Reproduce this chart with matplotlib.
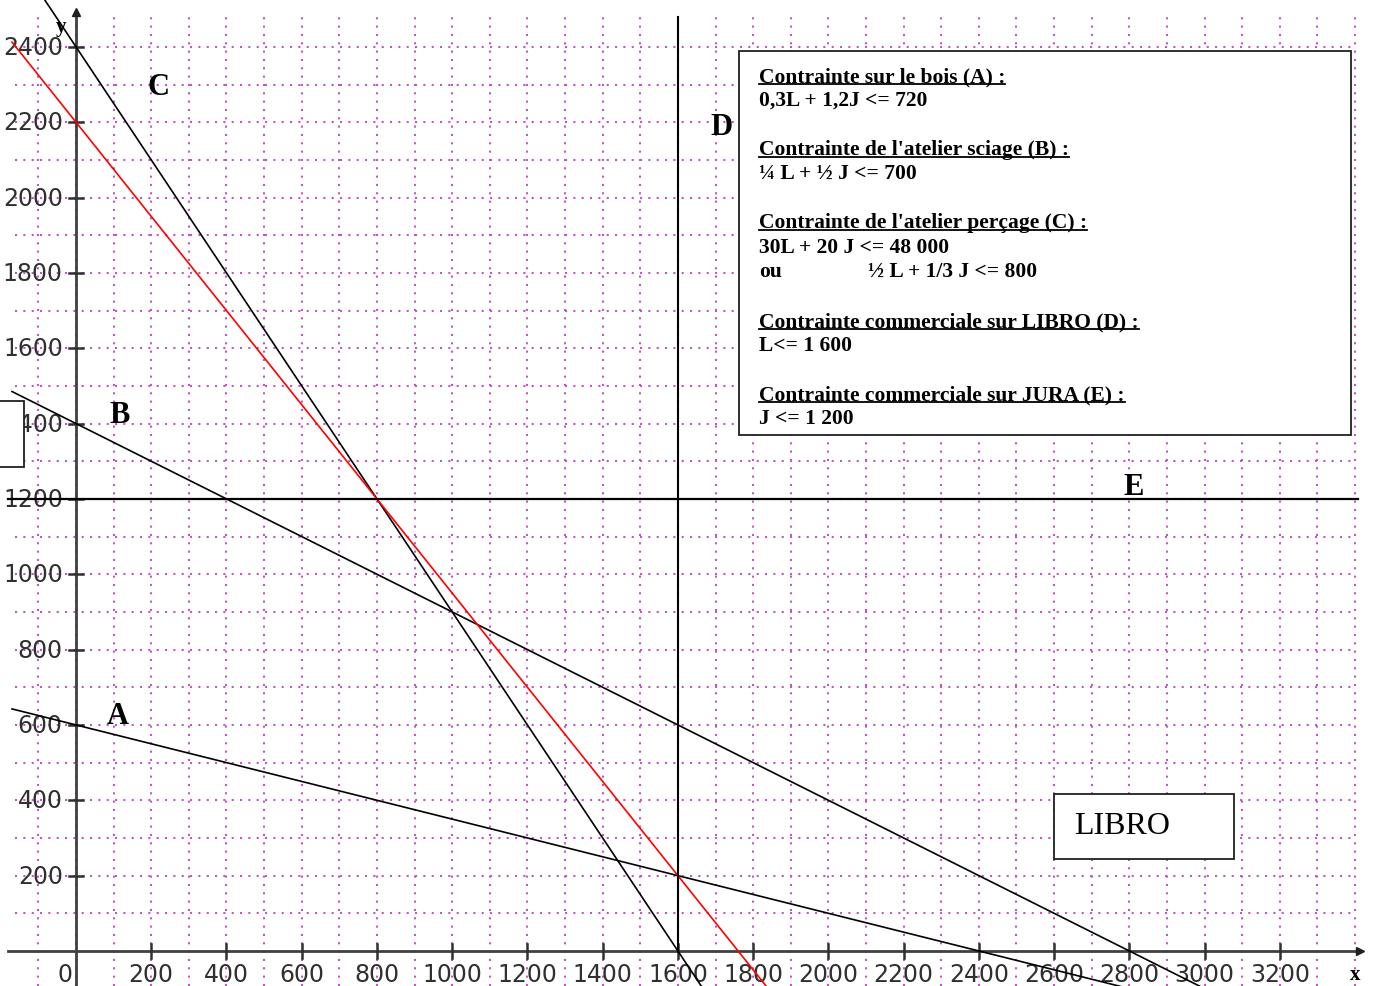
import numpy as np
import matplotlib.pyplot as plt
from matplotlib.lines import Line2D
from matplotlib.patches import Rectangle

W, H = 1378, 987

# constraints: a*L + b*J = c
names = ['A', 'B', 'C']
coef_L = [0.3, 0.25, 30]
coef_J = [1.2, 0.5, 20]
rhs = [720, 700, 48000]
red_J0, red_L0 = 2200, 1760     # red line intercepts
D_L = 1600                       # L <= 1600
E_J = 1200                       # J <= 1200

x_ticks = list(range(200, 3201, 200))
y_ticks = list(range(200, 2401, 200))

letter_pos = {'A': (112, 626), 'B': (117, 1425), 'C': (218, 2296),
              'D': (1717, 2188), 'E': (2812, 1232)}

# (text, underlined, baseline in px from top)
box_lines = [
    ("Contrainte sur le bois (A) :", True, 82),
    ("0,3L + 1,2J <= 720", False, 106),
    ("Contrainte de l'atelier sciage (B) :", True, 155),
    ("¼ L + ½ J <= 700", False, 179),
    ("Contrainte de l'atelier perçage (C) :", True, 228),
    ("30L + 20 J <= 48 000", False, 253),
    ("ou", False, 277),
    ("Contrainte commerciale sur LIBRO (D) :", True, 327),
    ("L<= 1 600", False, 351),
    ("Contrainte commerciale sur JURA (E) :", True, 400),
    ("J <= 1 200", False, 424),
]
ou_rest = "½ L + 1/3 J <= 800"

fig = plt.figure(figsize=(W / 100, H / 100), dpi=100)
ax = fig.add_axes([0, 0, 1, 1])
ax.set_xlim(-202, 3461)
ax.set_ylim(-93, 2527)
ax.axis('off')

# dotted grid
grid_kw = dict(colors='#c058c0', linewidth=1.5, linestyles=(0, (1, 3)), zorder=1)
ax.vlines(np.arange(-100, 3401, 100), -93, 2482, **grid_kw)
ax.hlines(np.arange(100, 2401, 100), -162, 3400, **grid_kw)

# axes with arrows
ax.plot([-180, 3413], [0, 0], color='#404040', lw=2, zorder=3)
ax.plot([0, 0], [-93, 2493], color='#404040', lw=2, zorder=3)
ax.plot(3413, 0, marker='>', ms=6, color='#202020', zorder=3)
ax.plot(0, 2493, marker='^', ms=6, color='#202020', zorder=3)

lab_kw = dict(fontsize=17, family='DejaVu Sans', color='#303030', zorder=2)
for t in x_ticks:
    ax.plot([t, t], [-18, 18], color='#303030', lw=1.8, zorder=3)
    ax.text(t, -61, str(t), ha='center', va='center', **lab_kw)
ax.text(-10, -61, "0", ha='right', va='center', **lab_kw)
for t in y_ticks:
    ax.plot([-18, 18], [t, t], color='#303030', lw=1.8, zorder=3)
    ax.text(-35, t, str(t), ha='right', va='center', **lab_kw)

# constraint lines
L = np.array([-170, 3500])
for a, b, c in zip(coef_L, coef_J, rhs):
    ax.plot(L, (c - a * L) / b, color='black', lw=1.2, zorder=4)
ax.plot(L, red_J0 - red_J0 / red_L0 * L, color='red', lw=1.2, zorder=4)
ax.plot([D_L, D_L], [0, 2480], color='black', lw=1.5, zorder=4)
ax.plot([-180, 3407], [E_J, E_J], color='black', lw=1.6, zorder=4)

for k, (lx, ly) in letter_pos.items():
    ax.text(lx, ly, k, fontsize=22, family='Liberation Serif', weight='bold',
            ha='center', va='center', zorder=5)
ax.text(-40, 2455, "y", fontsize=15, family='Liberation Serif', weight='bold',
        ha='center', va='center', zorder=2)
ax.text(3399, -61, "x", fontsize=15, family='Liberation Serif', weight='bold',
        ha='center', va='center')


def frac(px, py):
    return px / W, 1 - py / H


def box(x0, y0, x1, y1):
    fx, fy = frac(x0, y1)
    fig.add_artist(Rectangle((fx, fy), (x1 - x0) / W, (y1 - y0) / H,
                             transform=fig.transFigure, facecolor='white',
                             edgecolor='#202020', lw=1.3, zorder=10))


box(739, 52, 1351, 436)
box(1054, 795, 1234, 860)
box(-10, 402, 24, 468)

txt_kw = dict(fontsize=15.5, family='Liberation Serif', weight='bold',
              va='baseline', zorder=11)
under = []
for s, ul, base in box_lines:
    t = fig.text(*frac(759, base), s, **txt_kw)
    if ul:
        under.append((t, base))
fig.text(*frac(868, 277), ou_rest, **txt_kw)

fig.text(*frac(1074, 827), "LIBRO", fontsize=23, family='Liberation Serif',
         va='center', zorder=11)

fig.canvas.draw()
r = fig.canvas.get_renderer()
for t, base in under:
    bb = t.get_window_extent(r)
    yf = 1 - (base + 3) / H
    fig.add_artist(Line2D([bb.x0 / W, bb.x1 / W], [yf, yf], transform=fig.transFigure,
                          color='black', lw=1.3, zorder=12))

fig.savefig('out.png', dpi=100)
